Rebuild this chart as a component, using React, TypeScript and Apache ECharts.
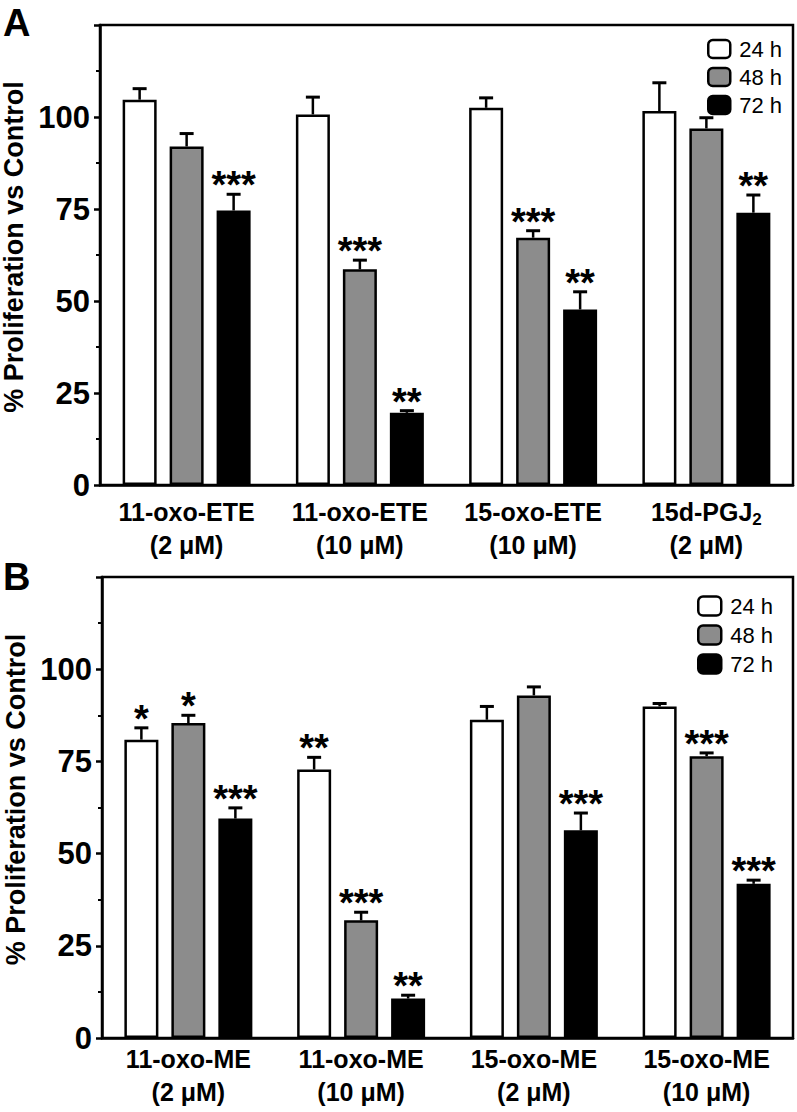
import React, { useEffect, useRef } from "react";
import * as echarts from "echarts";

const seriesNames = ["24 h", "48 h", "72 h"];
const categoriesA = ["11-oxo-ETE\n(2 μM)", "11-oxo-ETE\n(10 μM)", "15-oxo-ETE\n(10 μM)", "15d-PGJ{sub|2}\n(2 μM)"];
const categoriesB = ["11-oxo-ME\n(2 μM)", "11-oxo-ME\n(10 μM)", "15-oxo-ME\n(2 μM)", "15-oxo-ME\n(10 μM)"];

const a24 = [104.7, 100.7, 102.5, 101.6];
const a48 = [92.0, 58.6, 67.2, 96.9];
const a72 = [74.6, 19.6, 47.7, 74.0];
const a24err = [3.0, 4.7, 2.7, 7.7];
const a48err = [3.5, 2.5, 1.9, 2.9];
const a72err = [4.4, 0.6, 4.8, 4.8];
const a24stars = ["", "", "", ""];
const a48stars = ["", "***", "***", ""];
const a72stars = ["***", "**", "**", "**"];

const b24 = [80.9, 72.8, 86.3, 89.9];
const b48 = [85.4, 31.9, 92.9, 76.4];
const b72 = [59.5, 10.7, 56.3, 41.8];
const b24err = [3.2, 3.3, 3.6, 0.8];
const b48err = [2.1, 2.2, 2.3, 0.9];
const b72err = [2.9, 0.9, 4.7, 1.0];
const b24stars = ["*", "**", "", ""];
const b48stars = ["*", "***", "", "***"];
const b72stars = ["***", "**", "***", "***"];

const yTicks = [0, 25, 50, 75, 100];

const FONT = 'Arial, "Liberation Sans", Helvetica, sans-serif';
const COLORS = ["#ffffff", "#8c8c8c", "#000000"];
const BAR_W = 34;
const BAR_GAP_PX = 13;
const BAR_STEP = BAR_W + BAR_GAP_PX;

export default function App() {
  const ref = useRef<HTMLDivElement>(null);
  useEffect(() => {
    document.body.style.margin = "0";
    const chart = echarts.init(ref.current!, null, { renderer: "svg" });

    const panels = [
      { vals: [a24, a48, a72], errs: [a24err, a48err, a72err], stars: [a24stars, a48stars, a72stars] },
      { vals: [b24, b48, b72], errs: [b24err, b48err, b72err], stars: [b24stars, b48stars, b72stars] },
    ];

    const series: any[] = [];
    panels.forEach((p, gi) => {
      p.vals.forEach((v, si) => {
        series.push({
          type: "bar",
          name: seriesNames[si],
          xAxisIndex: gi,
          yAxisIndex: gi,
          data: v,
          barWidth: BAR_W,
          barGap: ((BAR_GAP_PX / BAR_W) * 100).toFixed(1) + "%",
          itemStyle: { color: COLORS[si], borderColor: "#000", borderWidth: 2.5 },
          z: 2,
        });
      });
      const data: number[][] = [];
      const starList: string[] = [];
      p.vals.forEach((v, si) => {
        v.forEach((val, ci) => {
          data.push([ci, val, p.errs[si][ci], si]);
          starList.push(p.stars[si][ci]);
        });
      });
      series.push({
        type: "custom",
        xAxisIndex: gi,
        yAxisIndex: gi,
        z: 5,
        encode: { x: 0, y: 1 },
        data,
        renderItem: (params: any, api: any) => {
          const ci = api.value(0);
          const val = api.value(1);
          const err = api.value(2);
          const si = api.value(3);
          const base = api.coord([ci, val]);
          const top = api.coord([ci, val + err]);
          const x = base[0] + (si - 1) * BAR_STEP;
          const star = starList[params.dataIndex];
          const children: any[] = [
            { type: "line", shape: { x1: x, y1: base[1], x2: x, y2: top[1] }, style: { stroke: "#000", lineWidth: 2.5 } },
            { type: "line", shape: { x1: x - 7, y1: top[1], x2: x + 7, y2: top[1] }, style: { stroke: "#000", lineWidth: 3 } },
          ];
          if (star) {
            children.push({
              type: "text",
              style: {
                text: star,
                x,
                y: top[1] + 10,
                align: "center",
                verticalAlign: "bottom",
                fontSize: 38,
                fontWeight: "bold",
                fontFamily: FONT,
                fill: "#000",
              },
            });
          }
          return { type: "group", children };
        },
      });
    });

    const grids = [
      { left: 100, top: 25, width: 693, height: 460 },
      { left: 102, top: 577, width: 691, height: 461 },
    ];

    const xAxis = [categoriesA, categoriesB].map((cats, gi) => ({
      type: "category",
      gridIndex: gi,
      data: cats,
      axisLine: { lineStyle: { color: "#000", width: 2.5 } },
      axisTick: { alignWithLabel: true, length: 7, lineStyle: { color: "#000", width: 2.5 } },
      axisLabel: {
        color: "#000",
        fontSize: 25,
        fontWeight: "bold",
        fontFamily: FONT,
        lineHeight: 33,
        margin: gi === 0 ? 10 : 4,
        interval: 0,
        rich: {
          sub: { fontSize: 17, fontWeight: "bold", fontFamily: FONT, color: "#000", lineHeight: 16, verticalAlign: "bottom" },
        },
      },
    }));

    const yAxis = [0, 1].map((gi) => ({
      type: "value",
      gridIndex: gi,
      min: 0,
      max: 125,
      interval: 25,
      name: "% Proliferation vs Control",
      nameLocation: "middle",
      nameGap: 70,
      nameTextStyle: { fontSize: 27, fontWeight: "bold", fontFamily: FONT, color: "#000", padding: [0, 0, 0, 16] },
      axisLine: { show: true, lineStyle: { color: "#000", width: 2.5 } },
      axisTick: { show: true, length: 6, lineStyle: { color: "#000", width: 2.5 } },
      minorTick: { show: true, splitNumber: 2, length: 4, lineStyle: { color: "#000", width: 2 } },
      splitLine: { show: false },
      axisLabel: {
        color: "#000",
        fontSize: 31,
        fontWeight: "bold",
        fontFamily: FONT,
        margin: 10,
        formatter: (v: number) => (yTicks.includes(v) ? String(v) : ""),
      },
    }));

    const legendCommon = {
      orient: "vertical",
      icon: "roundRect",
      data: seriesNames,
      selectedMode: false,
      textStyle: { fontSize: 22, fontFamily: FONT, color: "#000", padding: [0, 0, 0, 4] },
      itemStyle: { borderColor: "#000", borderWidth: 2.5 },
    };

    chart.setOption({
      animation: false,
      backgroundColor: "#fff",
      grid: grids.map((g) => ({
        ...g,
        show: true,
        borderColor: "#000",
        borderWidth: 2.5,
        backgroundColor: "transparent",
        outerBoundsMode: "none",
        containLabel: false,
      })),
      xAxis,
      yAxis,
      legend: [
        { ...legendCommon, left: 702, top: 33, itemWidth: 22, itemHeight: 18, itemGap: 6 },
        { ...legendCommon, left: 692, top: 590, itemWidth: 23, itemHeight: 19, itemGap: 7 },
      ],
      graphic: [
        { type: "text", left: 3, top: 4, style: { text: "A", fontSize: 38, fontWeight: "bold", fontFamily: FONT, fill: "#000" } },
        { type: "text", left: 3, top: 558, style: { text: "B", fontSize: 38, fontWeight: "bold", fontFamily: FONT, fill: "#000" } },
      ],
      series,
    });
    return () => chart.dispose();
  }, []);
  return <div ref={ref} style={{ width: 797, height: 1112 }} />;
}
